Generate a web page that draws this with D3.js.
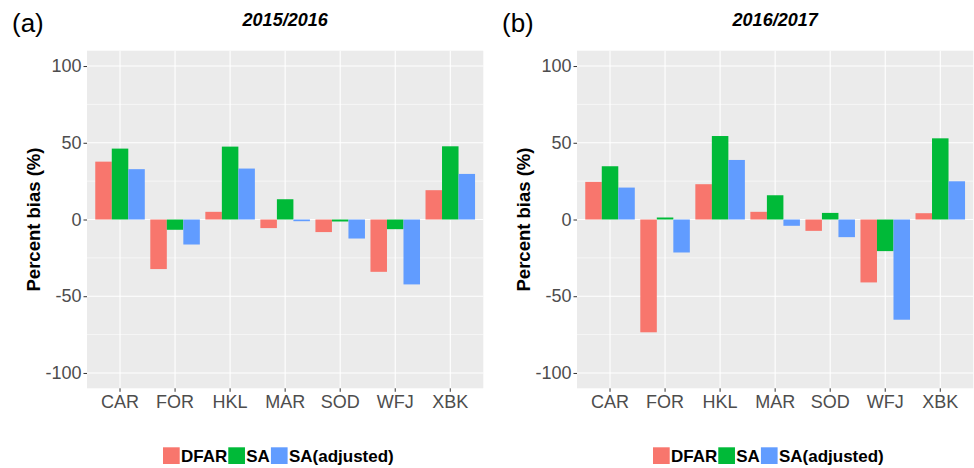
<!DOCTYPE html>
<html>
<head>
<meta charset="utf-8">
<script src="https://cdn.jsdelivr.net/npm/d3@7"></script>
<style>
  body { margin: 0; background: #fff; }
  svg { display: block; font-family: "Liberation Sans", Arial, sans-serif; }
</style>
</head>
<body>
<div class="canvas"></div>
<script>
// stations & series
const stations = ['CAR', 'FOR', 'HKL', 'MAR', 'SOD', 'WFJ', 'XBK'];
const series = ['DFAR', 'SA', 'SA(adjusted)'];
const seriesColors = ['#F8766D', '#00BA38', '#619CFF'];

// percent bias, 2015/2016
const dfar1516 = [37.7, -32.3, 5.0, -5.6, -8.2, -34.1, 19.1];
const sa1516 = [46.2, -6.7, 47.5, 13.2, -1.3, -6.3, 47.7];
const saAdj1516 = [32.8, -16.3, 33.2, -1.1, -12.4, -42.3, 29.7];

// percent bias, 2016/2017
const dfar1617 = [24.5, -73.5, 23.0, 5.0, -7.4, -41.0, 4.1];
const sa1617 = [34.7, 1.3, 54.4, 15.8, 4.3, -20.6, 52.9];
const saAdj1617 = [20.8, -21.5, 38.8, -4.1, -11.5, -65.3, 24.9];

const yTicks = [-100, -50, 0, 50, 100];
const yMinor = [-75, -25, 25, 75];

const panels = [
    { label: '(a)', title: '2015/2016', values: [dfar1516, sa1516, saAdj1516] },
    { label: '(b)', title: '2016/2017', values: [dfar1617, sa1617, saAdj1617] }
];

const svg = d3.select('.canvas')
    .append('svg')
    .attr('width', 974)
    .attr('height', 468);

// panel box (left panel), second one is shifted by 490
const box = { left: 87, right: 483.3, top: 50.7, bottom: 388.3 };
const panelShift = 490;

panels.forEach((p, pi) => {
    const g = svg.append('g')
        .attr('transform', `translate(${pi * panelShift}, 0)`);

    const x = d3.scaleBand()
        .domain(stations)
        .range([box.left, box.right])
        .paddingInner(0.1)
        .paddingOuter(0.15);

    const xs = d3.scaleBand()
        .domain(series)
        .range([0, x.bandwidth()]);

    const y = d3.scaleLinear()
        .domain([-110, 110])
        .range([box.bottom, box.top]);

    // background
    g.append('rect')
        .attr('x', box.left)
        .attr('y', box.top)
        .attr('width', box.right - box.left)
        .attr('height', box.bottom - box.top)
        .attr('fill', '#EBEBEB');

    // grid
    g.selectAll('.minor')
        .data(yMinor)
        .enter()
        .append('line')
        .attr('x1', box.left).attr('x2', box.right)
        .attr('y1', d => y(d)).attr('y2', d => y(d))
        .attr('stroke', '#fff').attr('stroke-width', 0.55);

    g.selectAll('.major')
        .data(yTicks)
        .enter()
        .append('line')
        .attr('x1', box.left).attr('x2', box.right)
        .attr('y1', d => y(d)).attr('y2', d => y(d))
        .attr('stroke', '#fff').attr('stroke-width', 1.1);

    g.selectAll('.vgrid')
        .data(stations)
        .enter()
        .append('line')
        .attr('x1', d => x(d) + x.bandwidth() / 2)
        .attr('x2', d => x(d) + x.bandwidth() / 2)
        .attr('y1', box.top).attr('y2', box.bottom)
        .attr('stroke', '#fff').attr('stroke-width', 1.1);

    // bars
    const rows = [];
    stations.forEach((s, i) => {
        series.forEach((k, j) => {
            rows.push({ station: s, series: k, value: p.values[j][i], color: seriesColors[j] });
        });
    });

    g.selectAll('.bar')
        .data(rows)
        .enter()
        .append('rect')
        .attr('x', d => x(d.station) + xs(d.series))
        .attr('width', xs.bandwidth())
        .attr('y', d => y(Math.max(0, d.value)))
        .attr('height', d => Math.abs(y(d.value) - y(0)))
        .attr('fill', d => d.color);

    // axes
    const yAxis = d3.axisLeft(y)
        .tickValues(yTicks)
        .tickFormat(d => String(d))
        .tickSize(3.5)
        .tickPadding(2);
    const yAxisGroup = g.append('g')
        .attr('transform', `translate(${box.left}, 0)`)
        .call(yAxis);
    yAxisGroup.select('.domain').remove();
    yAxisGroup.selectAll('line').attr('stroke', '#333');
    yAxisGroup.selectAll('text')
        .attr('fill', '#4D4D4D')
        .style('font-size', '18px')
        .style('font-family', '"Liberation Sans", Arial, sans-serif');

    const xAxis = d3.axisBottom(x)
        .tickSize(3.5)
        .tickPadding(3.2);
    const xAxisGroup = g.append('g')
        .attr('transform', `translate(0, ${box.bottom})`)
        .call(xAxis);
    xAxisGroup.select('.domain').remove();
    xAxisGroup.selectAll('line').attr('stroke', '#333');
    xAxisGroup.selectAll('text')
        .attr('fill', '#4D4D4D')
        .style('font-size', '18px')
        .style('font-family', '"Liberation Sans", Arial, sans-serif');

    // axis title
    g.append('text')
        .attr('transform', `translate(40, ${(box.top + box.bottom) / 2}) rotate(-90)`)
        .attr('text-anchor', 'middle')
        .style('font-size', '18.5px')
        .style('font-weight', 'bold')
        .text('Percent bias (%)');

    // panel title
    g.append('text')
        .attr('x', (box.left + box.right) / 2)
        .attr('y', 26)
        .attr('text-anchor', 'middle')
        .style('font-size', '18px')
        .style('font-weight', 'bold')
        .style('font-style', 'italic')
        .text(p.title);

    // panel label
    g.append('text')
        .attr('x', 12)
        .attr('y', 31.5)
        .style('font-size', '26px')
        .text(p.label);

    // legend
    const legend = g.append('g');
    let lx = 163;
    series.forEach((k, j) => {
        legend.append('rect')
            .attr('x', lx)
            .attr('y', 447.3)
            .attr('width', 16.7)
            .attr('height', 16.7)
            .attr('fill', seriesColors[j]);
        lx += 18;
        const t = legend.append('text')
            .attr('x', lx)
            .attr('y', 462)
            .style('font-size', '17px')
            .style('font-weight', 'bold')
            .text(k);
        lx += t.node().getComputedTextLength() + 1;
    });
});
</script>
</body>
</html>
